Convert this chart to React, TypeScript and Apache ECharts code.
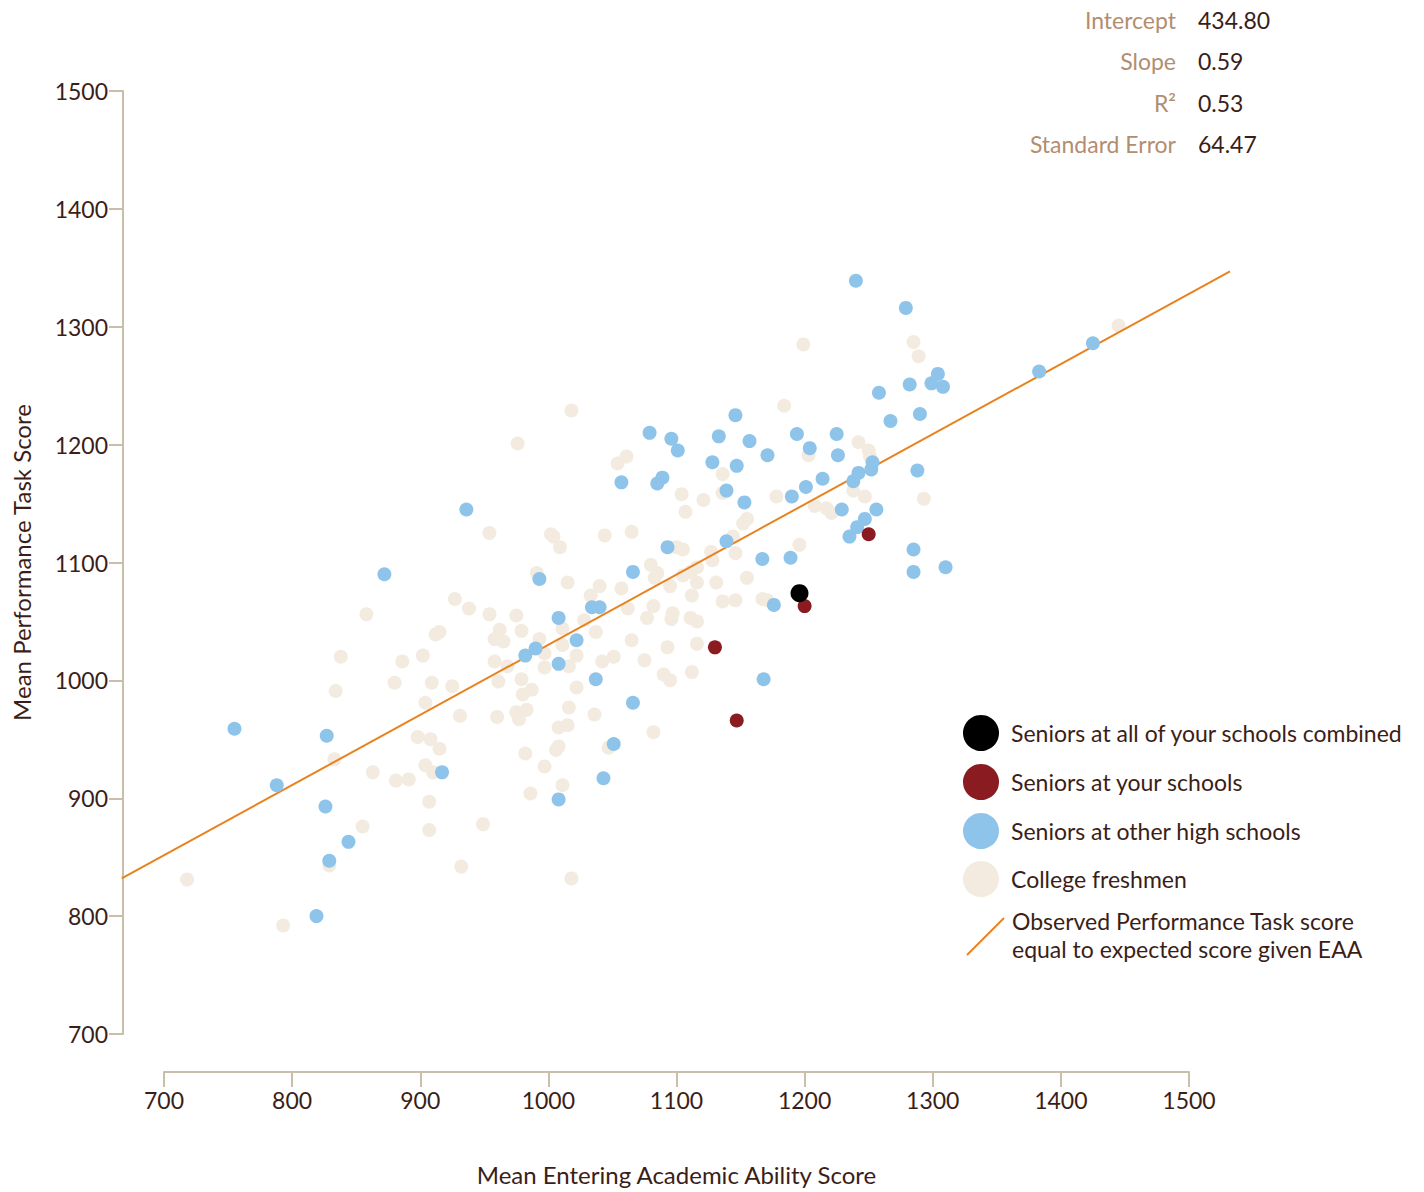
import React, { useEffect, useRef } from "react";
import * as echarts from "echarts";

const collegeFreshmen: [number, number][] = [
  [927, 1069], [858, 1056], [912, 1039], [915, 1041], [838, 1020], [886, 1016], [902, 1021], [834, 991],
  [880, 998], [909, 998], [925, 995], [904, 981], [931, 970], [898, 952], [908, 950], [915, 942],
  [833, 933], [863, 922], [881, 915], [891, 916], [904, 928], [910, 922], [907, 897], [855, 876],
  [907, 873], [829, 843], [932, 842], [718, 831], [793, 792],
  [1018, 1229], [976, 1201], [1061, 1190], [1054, 1184], [1104, 1158], [1107, 1143], [954, 1125],
  [1002, 1124], [1004, 1122], [1044, 1123], [1065, 1126], [1009, 1113], [1100, 1113], [1105, 1111],
  [1080, 1098], [1085, 1091], [1083, 1087], [991, 1091], [1015, 1083], [1116, 1096], [1105, 1089],
  [1111, 1092], [1040, 1080], [1095, 1080], [1057, 1078], [1033, 1072], [1116, 1083], [1112, 1072],
  [938, 1061], [1062, 1061], [1082, 1063], [1077, 1053], [1097, 1057], [1096, 1052], [954, 1056],
  [975, 1055], [1028, 1051], [1111, 1053], [1116, 1050], [962, 1043], [958, 1035], [965, 1033],
  [979, 1042], [1011, 1044], [1037, 1041], [993, 1035], [1065, 1034], [1011, 1030], [1093, 1028],
  [1116, 1031], [997, 1023], [1022, 1021], [958, 1016], [968, 1012], [1042, 1016], [1051, 1020],
  [1075, 1017], [997, 1011], [1016, 1012], [1112, 1007], [1090, 1005], [1095, 1000], [961, 999],
  [979, 1001], [987, 992], [980, 988], [1022, 994],
  [960, 969], [975, 973], [983, 975], [977, 967], [1016, 977], [1036, 971], [1008, 960], [1015, 962],
  [1082, 956], [1008, 944], [1006, 941], [1047, 943], [982, 938], [997, 927], [1011, 911], [986, 904],
  [949, 878], [1018, 832],
  [1184, 1233], [1203, 1191], [1242, 1202], [1250, 1195], [1251, 1190], [1136, 1175], [1136, 1159],
  [1121, 1153], [1178, 1156], [1238, 1161], [1247, 1156], [1293, 1154], [1208, 1148], [1217, 1146],
  [1221, 1142], [1155, 1137], [1152, 1133], [1144, 1122], [1146, 1108], [1196, 1115], [1127, 1109],
  [1128, 1102], [1155, 1087], [1131, 1083], [1167, 1069], [1171, 1068], [1136, 1067], [1146, 1068],
  [1199, 1285], [1285, 1287], [1289, 1275], [1445, 1301],
];

const otherHighSchools: [number, number][] = [
  [872, 1090], [755, 959], [827, 953], [917, 922], [788, 911], [826, 893], [844, 863], [829, 847], [819, 800],
  [1079, 1210], [1096, 1205], [1101, 1195], [1057, 1168], [1089, 1172], [1085, 1167], [936, 1145],
  [1093, 1113], [1066, 1092], [993, 1086], [1034, 1062], [1040, 1062], [1008, 1053], [1022, 1034],
  [990, 1027], [982, 1021], [1008, 1014], [1037, 1001], [1066, 981],
  [1051, 946], [1043, 917], [1008, 899],
  [1258, 1244], [1282, 1251], [1299, 1252], [1304, 1260], [1308, 1249], [1290, 1226], [1267, 1220],
  [1146, 1225], [1133, 1207], [1157, 1203], [1194, 1209], [1225, 1209], [1204, 1197], [1171, 1191],
  [1226, 1191], [1128, 1185], [1147, 1182], [1253, 1185], [1252, 1179], [1242, 1176], [1238, 1169],
  [1288, 1178], [1214, 1171], [1201, 1164], [1190, 1156], [1139, 1161], [1153, 1151], [1229, 1145],
  [1256, 1145], [1247, 1137], [1241, 1130], [1235, 1122], [1139, 1118], [1167, 1103], [1189, 1104],
  [1285, 1111], [1310, 1096], [1285, 1092], [1176, 1064], [1168, 1001],
  [1240, 1339], [1279, 1316], [1383, 1262], [1425, 1286],
];

const yourSchools: [number, number][] = [
  [1250, 1124], [1200, 1063], [1130, 1028], [1147, 966],
];

const allSchoolsCombined: [number, number][] = [[1196, 1074]];

// endpoints of the "observed = expected" line
const expectedScoreLine: [number, number, number, number][] = [[667, 832, 1532, 1347]];

const statLabels = ["Intercept", "Slope", "R²", "Standard Error"];
const statValues = ["434.80", "0.59", "0.53", "64.47"];

const legendLabels = [
  "Seniors at all of your schools combined",
  "Seniors at your schools",
  "Seniors at other high schools",
  "College freshmen",
];
const lineLegendLines = [
  "Observed Performance Task score",
  "equal to expected score given EAA",
];

const xAxisName = "Mean Entering Academic Ability Score";
const yAxisName = "Mean Performance Task Score";

const FONT = "Lato, 'Noto Sans', sans-serif";
const DARK = "#3b1e17";
const TAN = "#b38d70";
const AXIS = "#c9bea9";
const BLUE = "#8ec4ea";
const BEIGE = "#f3ebdf";
const RED = "#8a1b20";
const BLACK = "#000000";
const ORANGE = "#e8821f";
const FS = 23;

export default function App() {
  const ref = useRef<HTMLDivElement>(null);

  useEffect(() => {
    document.body.style.margin = "0";
    if (!ref.current) return;
    const chart = echarts.init(ref.current, undefined, { renderer: "svg" });

    const legendColors = [BLACK, RED, BLUE, BEIGE];
    const legendRows = [733, 782, 831, 879];
    const statRows = [20, 61, 103, 144];

    const graphic: any[] = [];
    legendLabels.forEach((label, i) => {
      graphic.push({
        type: "circle",
        shape: { cx: 981, cy: legendRows[i], r: 18 },
        style: { fill: legendColors[i] },
      });
      graphic.push({
        type: "text",
        x: 1011,
        y: legendRows[i],
        style: {
          text: label,
          fill: DARK,
          fontSize: FS,
          fontFamily: FONT,
          textAlign: "left",
          textVerticalAlign: "middle",
        },
      });
    });
    graphic.push({
      type: "line",
      shape: { x1: 967, y1: 955, x2: 1004, y2: 918 },
      style: { stroke: ORANGE, lineWidth: 2 },
    });
    lineLegendLines.forEach((t, i) => {
      graphic.push({
        type: "text",
        x: 1012,
        y: 921 + i * 28,
        style: {
          text: t,
          fill: DARK,
          fontSize: FS,
          fontFamily: FONT,
          textAlign: "left",
          textVerticalAlign: "middle",
        },
      });
    });
    statLabels.forEach((label, i) => {
      graphic.push({
        type: "text",
        x: 1176,
        y: statRows[i],
        style: {
          text: label,
          fill: TAN,
          fontSize: FS,
          fontFamily: FONT,
          textAlign: "right",
          textVerticalAlign: "middle",
        },
      });
      graphic.push({
        type: "text",
        x: 1198,
        y: statRows[i],
        style: {
          text: statValues[i],
          fill: DARK,
          fontSize: FS,
          fontFamily: FONT,
          textAlign: "left",
          textVerticalAlign: "middle",
        },
      });
    });

    const axisCommon = {
      type: "value" as const,
      min: 700,
      max: 1500,
      interval: 100,
      nameLocation: "middle" as const,
      nameTextStyle: { fontSize: 24, color: DARK, fontFamily: FONT },
      axisLine: { show: true, lineStyle: { color: AXIS, width: 2 } },
      axisTick: { show: true, lineStyle: { color: AXIS, width: 2 } },
      axisLabel: {
        fontSize: FS,
        color: DARK,
        fontFamily: FONT,
        formatter: (v: number) => String(v),
      },
      splitLine: { show: false },
    };

    chart.setOption({
      animation: false,
      grid: { left: 164, right: 235, top: 91, bottom: 158 },
      xAxis: {
        ...axisCommon,
        offset: 38,
        name: xAxisName,
        nameGap: 90,
        axisTick: { ...axisCommon.axisTick, length: 15 },
        axisLabel: { ...axisCommon.axisLabel, margin: 16 },
      },
      yAxis: {
        ...axisCommon,
        offset: 41,
        name: yAxisName,
        nameGap: 90,
        axisTick: { ...axisCommon.axisTick, length: 14 },
        axisLabel: { ...axisCommon.axisLabel, margin: 15 },
      },
      series: [
        {
          name: "College freshmen",
          type: "scatter",
          data: collegeFreshmen,
          symbolSize: 14,
          itemStyle: { color: BEIGE, opacity: 1 },
          z: 1,
        },
        {
          name: "Expected",
          type: "custom",
          data: expectedScoreLine,
          clip: false,
          z: 2,
          renderItem: (params: any, api: any) => {
            const p1 = api.coord([api.value(0), api.value(1)]);
            const p2 = api.coord([api.value(2), api.value(3)]);
            return {
              type: "line",
              shape: { x1: p1[0], y1: p1[1], x2: p2[0], y2: p2[1] },
              style: { stroke: ORANGE, lineWidth: 2, fill: null },
            };
          },
        },
        {
          name: "Seniors at other high schools",
          type: "scatter",
          data: otherHighSchools,
          symbolSize: 14,
          itemStyle: { color: BLUE, opacity: 1 },
          z: 3,
        },
        {
          name: "Seniors at your schools",
          type: "scatter",
          data: yourSchools,
          symbolSize: 14,
          itemStyle: { color: RED, opacity: 1 },
          z: 4,
        },
        {
          name: "Seniors at all of your schools combined",
          type: "scatter",
          data: allSchoolsCombined,
          symbolSize: 18,
          itemStyle: { color: BLACK, opacity: 1 },
          z: 5,
        },
      ],
      graphic,
    });

    return () => chart.dispose();
  }, []);

  return <div ref={ref} style={{ width: 1424, height: 1192 }} />;
}
